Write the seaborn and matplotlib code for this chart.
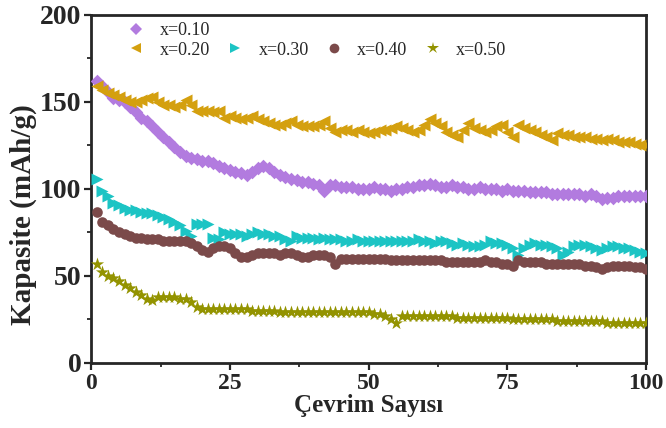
import numpy as np
import pandas as pd
import matplotlib
matplotlib.use("Agg")
import matplotlib.pyplot as plt
from matplotlib.lines import Line2D
from matplotlib.ticker import MultipleLocator
import seaborn as sns

# capacity (mAh/g) vs cycle number
cycles = list(range(1, 101))

cap_010 = [162, 159, 156, 152, 151, 150, 147, 144, 141, 139, 136, 133, 130, 127, 124, 121, 119, 118, 117, 116,
           116, 115, 113, 112, 111, 110, 109, 108, 110, 112, 113, 112, 110, 108, 107, 106, 105, 104, 104, 103,
           102, 99, 102, 102, 101, 101, 101, 100, 100, 100, 101, 100, 100, 99, 100, 100, 101, 101, 102, 102,
           103, 102, 101, 101, 102, 101, 101, 100, 100, 101, 100, 100, 100, 99, 100, 99, 99, 99, 98, 98,
           98, 98, 97, 97, 97, 97, 97, 97, 96, 97, 96, 94, 95, 95, 96, 96, 96, 96, 96, 96]
cap_020 = [159, 157, 155, 154, 153, 151, 150, 150, 151, 152, 153, 150, 148, 148, 147, 148, 151, 148, 145, 145,
           145, 144, 145, 141, 142, 141, 140, 141, 142, 140, 139, 138, 137, 137, 138, 139, 137, 136, 136, 136,
           137, 139, 135, 133, 134, 134, 133, 134, 133, 132, 133, 134, 134, 135, 136, 135, 134, 133, 134, 137,
           140, 138, 136, 133, 131, 130, 134, 138, 135, 134, 133, 134, 136, 137, 133, 130, 137, 135, 134, 133,
           131, 130, 128, 132, 131, 131, 130, 130, 130, 129, 129, 128, 129, 128, 127, 127, 127, 126, 125, 125]
cap_030 = [106, 99, 96, 92, 91, 89, 88, 88, 87, 86, 86, 85, 84, 83, 81, 79, 76, 73, 80, 80,
           80, 72, 71, 75, 74, 74, 74, 73, 74, 75, 74, 74, 73, 73, 71, 70, 73, 72, 72, 72,
           71, 72, 71, 71, 71, 70, 70, 71, 70, 70, 70, 70, 70, 70, 70, 70, 70, 70, 71, 70,
           70, 69, 70, 70, 69, 68, 69, 68, 67, 67, 68, 70, 69, 69, 68, 66, 62, 66, 68, 69,
           68, 68, 67, 66, 62, 64, 67, 68, 68, 67, 66, 65, 66, 67, 67, 66, 66, 65, 64, 63]
cap_040 = [87, 81, 79, 77, 75, 74, 73, 72, 72, 71, 71, 71, 70, 70, 70, 70, 70, 69, 67, 65,
           64, 66, 67, 67, 66, 63, 61, 61, 62, 63, 63, 63, 63, 62, 63, 63, 62, 61, 61, 62,
           62, 62, 61, 57, 60, 60, 60, 60, 60, 60, 60, 60, 60, 59, 59, 59, 59, 59, 59, 59,
           59, 59, 59, 58, 58, 58, 58, 58, 58, 58, 59, 58, 58, 57, 57, 56, 59, 58, 58, 58,
           58, 57, 57, 57, 57, 57, 57, 57, 56, 56, 55, 54, 55, 56, 56, 56, 56, 55, 55, 54]
cap_050 = [57, 52, 50, 49, 47, 45, 43, 41, 39, 37, 36, 38, 38, 38, 38, 37, 37, 35, 32, 31,
           31, 31, 31, 31, 31, 31, 31, 31, 30, 30, 30, 30, 30, 29, 29, 29, 29, 29, 29, 29,
           29, 29, 29, 29, 29, 29, 29, 29, 29, 29, 28, 28, 27, 25, 23, 27, 27, 27, 27, 27,
           27, 27, 27, 27, 27, 26, 26, 26, 26, 26, 26, 26, 26, 26, 26, 25, 25, 25, 25, 25,
           25, 25, 25, 24, 24, 24, 24, 24, 24, 24, 24, 24, 23, 23, 23, 23, 23, 23, 23, 23]

labels = ["x=0.10", "x=0.20", "x=0.30", "x=0.40", "x=0.50"]
colors = ["#B27BDF", "#D4A00F", "#1CC4C4", "#7B4A4A", "#939300"]
markers = ["D", "<", ">", "o", "*"]
sizes = [48, 75, 75, 58, 100]

series = [cap_010, cap_020, cap_030, cap_040, cap_050]
df = pd.concat([pd.DataFrame({"cycle": cycles, "cap": s, "sample": lab})
                for s, lab in zip(series, labels)], ignore_index=True)

sns.set_style("ticks")
plt.rcParams["font.family"] = ["Liberation Serif", "DejaVu Serif"]

fig = plt.figure(figsize=(6.66, 4.28), dpi=100)
ax = fig.add_axes([0.137, 0.152, 0.833, 0.813])

for lab, col, mk, sz in zip(labels, colors, markers, sizes):
    sub = df[df["sample"] == lab]
    sns.scatterplot(data=sub, x="cycle", y="cap", color=col, marker=mk, s=sz,
                    linewidth=0, legend=False, ax=ax, zorder=3)

ax.set_xlim(0, 100)
ax.set_ylim(0, 200)
ax.xaxis.set_major_locator(MultipleLocator(25))
ax.xaxis.set_minor_locator(MultipleLocator(12.5))
ax.yaxis.set_major_locator(MultipleLocator(50))
ax.yaxis.set_minor_locator(MultipleLocator(25))
ax.tick_params(which="major", direction="out", length=5, width=1.6, pad=2)
ax.tick_params(which="minor", direction="out", length=3, width=1.3)
ax.tick_params(axis="x", labelsize=17)
ax.tick_params(axis="y", labelsize=20)
for t in ax.get_xticklabels() + ax.get_yticklabels():
    t.set_fontweight("bold")
for sp in ax.spines.values():
    sp.set_linewidth(2)
    sp.set_visible(True)

ax.set_xlabel("Çevrim Sayısı", fontsize=18, fontweight="bold", labelpad=0)
ax.set_ylabel("Kapasite (mAh/g)", fontsize=21, fontweight="bold")
ax.yaxis.set_label_coords(-0.097, 0.425)

# legend: first row only x=0.10, second row the other four
blank = Line2D([], [], linestyle="none", marker=None)
hs = [Line2D([], [], linestyle="none", marker=mk, color=col, markersize=7 if mk != "*" else 9,
             markeredgewidth=0) for mk, col in zip(markers, colors)]
hs[0].set_markersize(6)
handles = [hs[0], hs[1], blank, hs[2], blank, hs[3], blank, hs[4]]
leg_labels = [labels[0], labels[1], "", labels[2], "", labels[3], "", labels[4]]
ax.legend(handles, leg_labels, ncol=4, frameon=False, fontsize=13, loc="upper left",
          bbox_to_anchor=(0.036, 1.027), handlelength=1.0, handletextpad=0.78,
          columnspacing=0.9, labelspacing=0.15)

plt.savefig("out.png", dpi=100)
